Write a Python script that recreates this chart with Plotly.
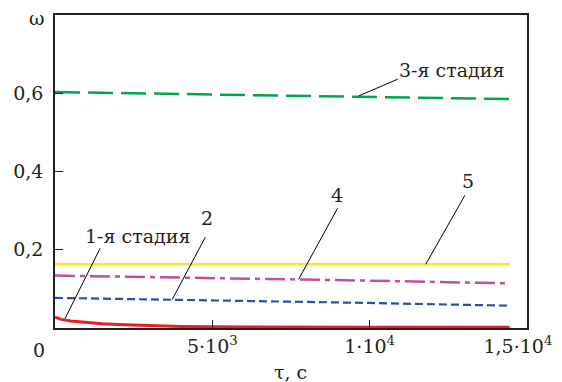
import plotly.graph_objects as go

# --- data ---
tau_common = [0, 2500, 5000, 7500, 10000, 12500, 14450]
omega_3 = [0.603, 0.600, 0.597, 0.594, 0.591, 0.588, 0.585]
omega_5 = [0.163, 0.163, 0.163, 0.163, 0.163, 0.163, 0.163]
omega_4 = [0.134, 0.131, 0.127, 0.124, 0.121, 0.117, 0.114]
omega_2 = [0.077, 0.074, 0.070, 0.067, 0.064, 0.060, 0.057]
tau_1 = [0, 200, 500, 1000, 1500, 2000, 3000, 4000, 5000, 7500, 10000, 14450]
omega_1 = [0.028, 0.022, 0.018, 0.014, 0.011, 0.009, 0.006, 0.004, 0.003, 0.002, 0.002, 0.002]

x_tickvals = [5000, 10000, 15000]
x_ticktext = ["5·10<sup>3</sup>", "1·10<sup>4</sup>", "1,5·10<sup>4</sup>&nbsp;&nbsp;&nbsp;"]
y_tickvals = [0.2, 0.4, 0.6]
y_ticktext = ["0,2", "0,4", "0,6"]

FONT = "DejaVu Serif"
FS = 19
TXT = "#231f20"

fig = go.Figure()
fig.add_trace(go.Scatter(x=tau_common, y=omega_3, mode="lines",
                         line=dict(color="#00a650", width=2.5, dash="25px,8px")))
fig.add_trace(go.Scatter(x=tau_common, y=omega_5, mode="lines",
                         line=dict(color="#ffed00", width=2.5)))
fig.add_trace(go.Scatter(x=tau_common, y=omega_4, mode="lines",
                         line=dict(color="#c0509b", width=2.5, dash="20px,5px,5px,5px")))
fig.add_trace(go.Scatter(x=tau_common, y=omega_2, mode="lines",
                         line=dict(color="#2e4fa3", width=2.2, dash="8px,4px")))
fig.add_trace(go.Scatter(x=tau_1, y=omega_1, mode="lines",
                         line=dict(color="#ed1c24", width=3)))

# leader lines and labels (label, text pos (x,y), line start, line end) in data coords
labels = [
    ("1-я стадия", (2611, 0.234), (1433, 0.2035), (318, 0.024)),
    ("2", (4841, 0.280), (4777, 0.232), (3726, 0.073)),
    ("4", (8949, 0.339), (8981, 0.306), (7739, 0.124)),
    ("5", (13121, 0.375), (13025, 0.339), (11783, 0.163)),
    ("3-я стадия", (12611, 0.659), (10892, 0.636), (9650, 0.593)),
]
for text, tp, p0, p1 in labels:
    fig.add_shape(type="line", x0=p0[0], y0=p0[1], x1=p1[0], y1=p1[1],
                  line=dict(color="black", width=1))
    fig.add_annotation(x=tp[0], y=tp[1], text=text, showarrow=False,
                       xanchor="center", yanchor="middle",
                       font=dict(family=FONT, size=FS, color=TXT))

for text, px, py in [("0", -0.034, -0.069), ("ω", -0.038, 0.99), ("τ, с", 0.498, -0.141)]:
    fig.add_annotation(x=px, y=py, xref="paper", yref="paper", text=text,
                       xanchor="center", yanchor="middle",
                       showarrow=False, font=dict(family=FONT, size=FS, color=TXT))

# page has an 8px body margin: shrink figure so the plot area lands where the reference's does
fig.update_layout(
    width=554, height=374,
    margin=dict(l=47, r=35, t=7, b=54),
    paper_bgcolor="white", plot_bgcolor="white",
    showlegend=False,
    font=dict(family=FONT, size=FS, color=TXT),
)
fig.update_xaxes(range=[0, 15000], tickvals=x_tickvals, ticktext=x_ticktext,
                 ticks="inside", ticklen=8, tickcolor=TXT, automargin=False,
                 ticklabeloverflow="allow",
                 tickfont=dict(family=FONT, size=FS, color=TXT),
                 showline=True, linecolor=TXT, linewidth=1.5, mirror=True,
                 showgrid=False, zeroline=False)
fig.update_yaxes(range=[0, 0.8], tickvals=y_tickvals, ticktext=y_ticktext,
                 ticks="inside", ticklen=8, tickcolor=TXT, automargin=False,
                 ticklabelstandoff=6, ticklabeloverflow="allow",
                 tickfont=dict(family=FONT, size=FS, color=TXT),
                 showline=True, linecolor=TXT, linewidth=1.5, mirror=True,
                 showgrid=False, zeroline=False)

fig.write_html("out.html")
